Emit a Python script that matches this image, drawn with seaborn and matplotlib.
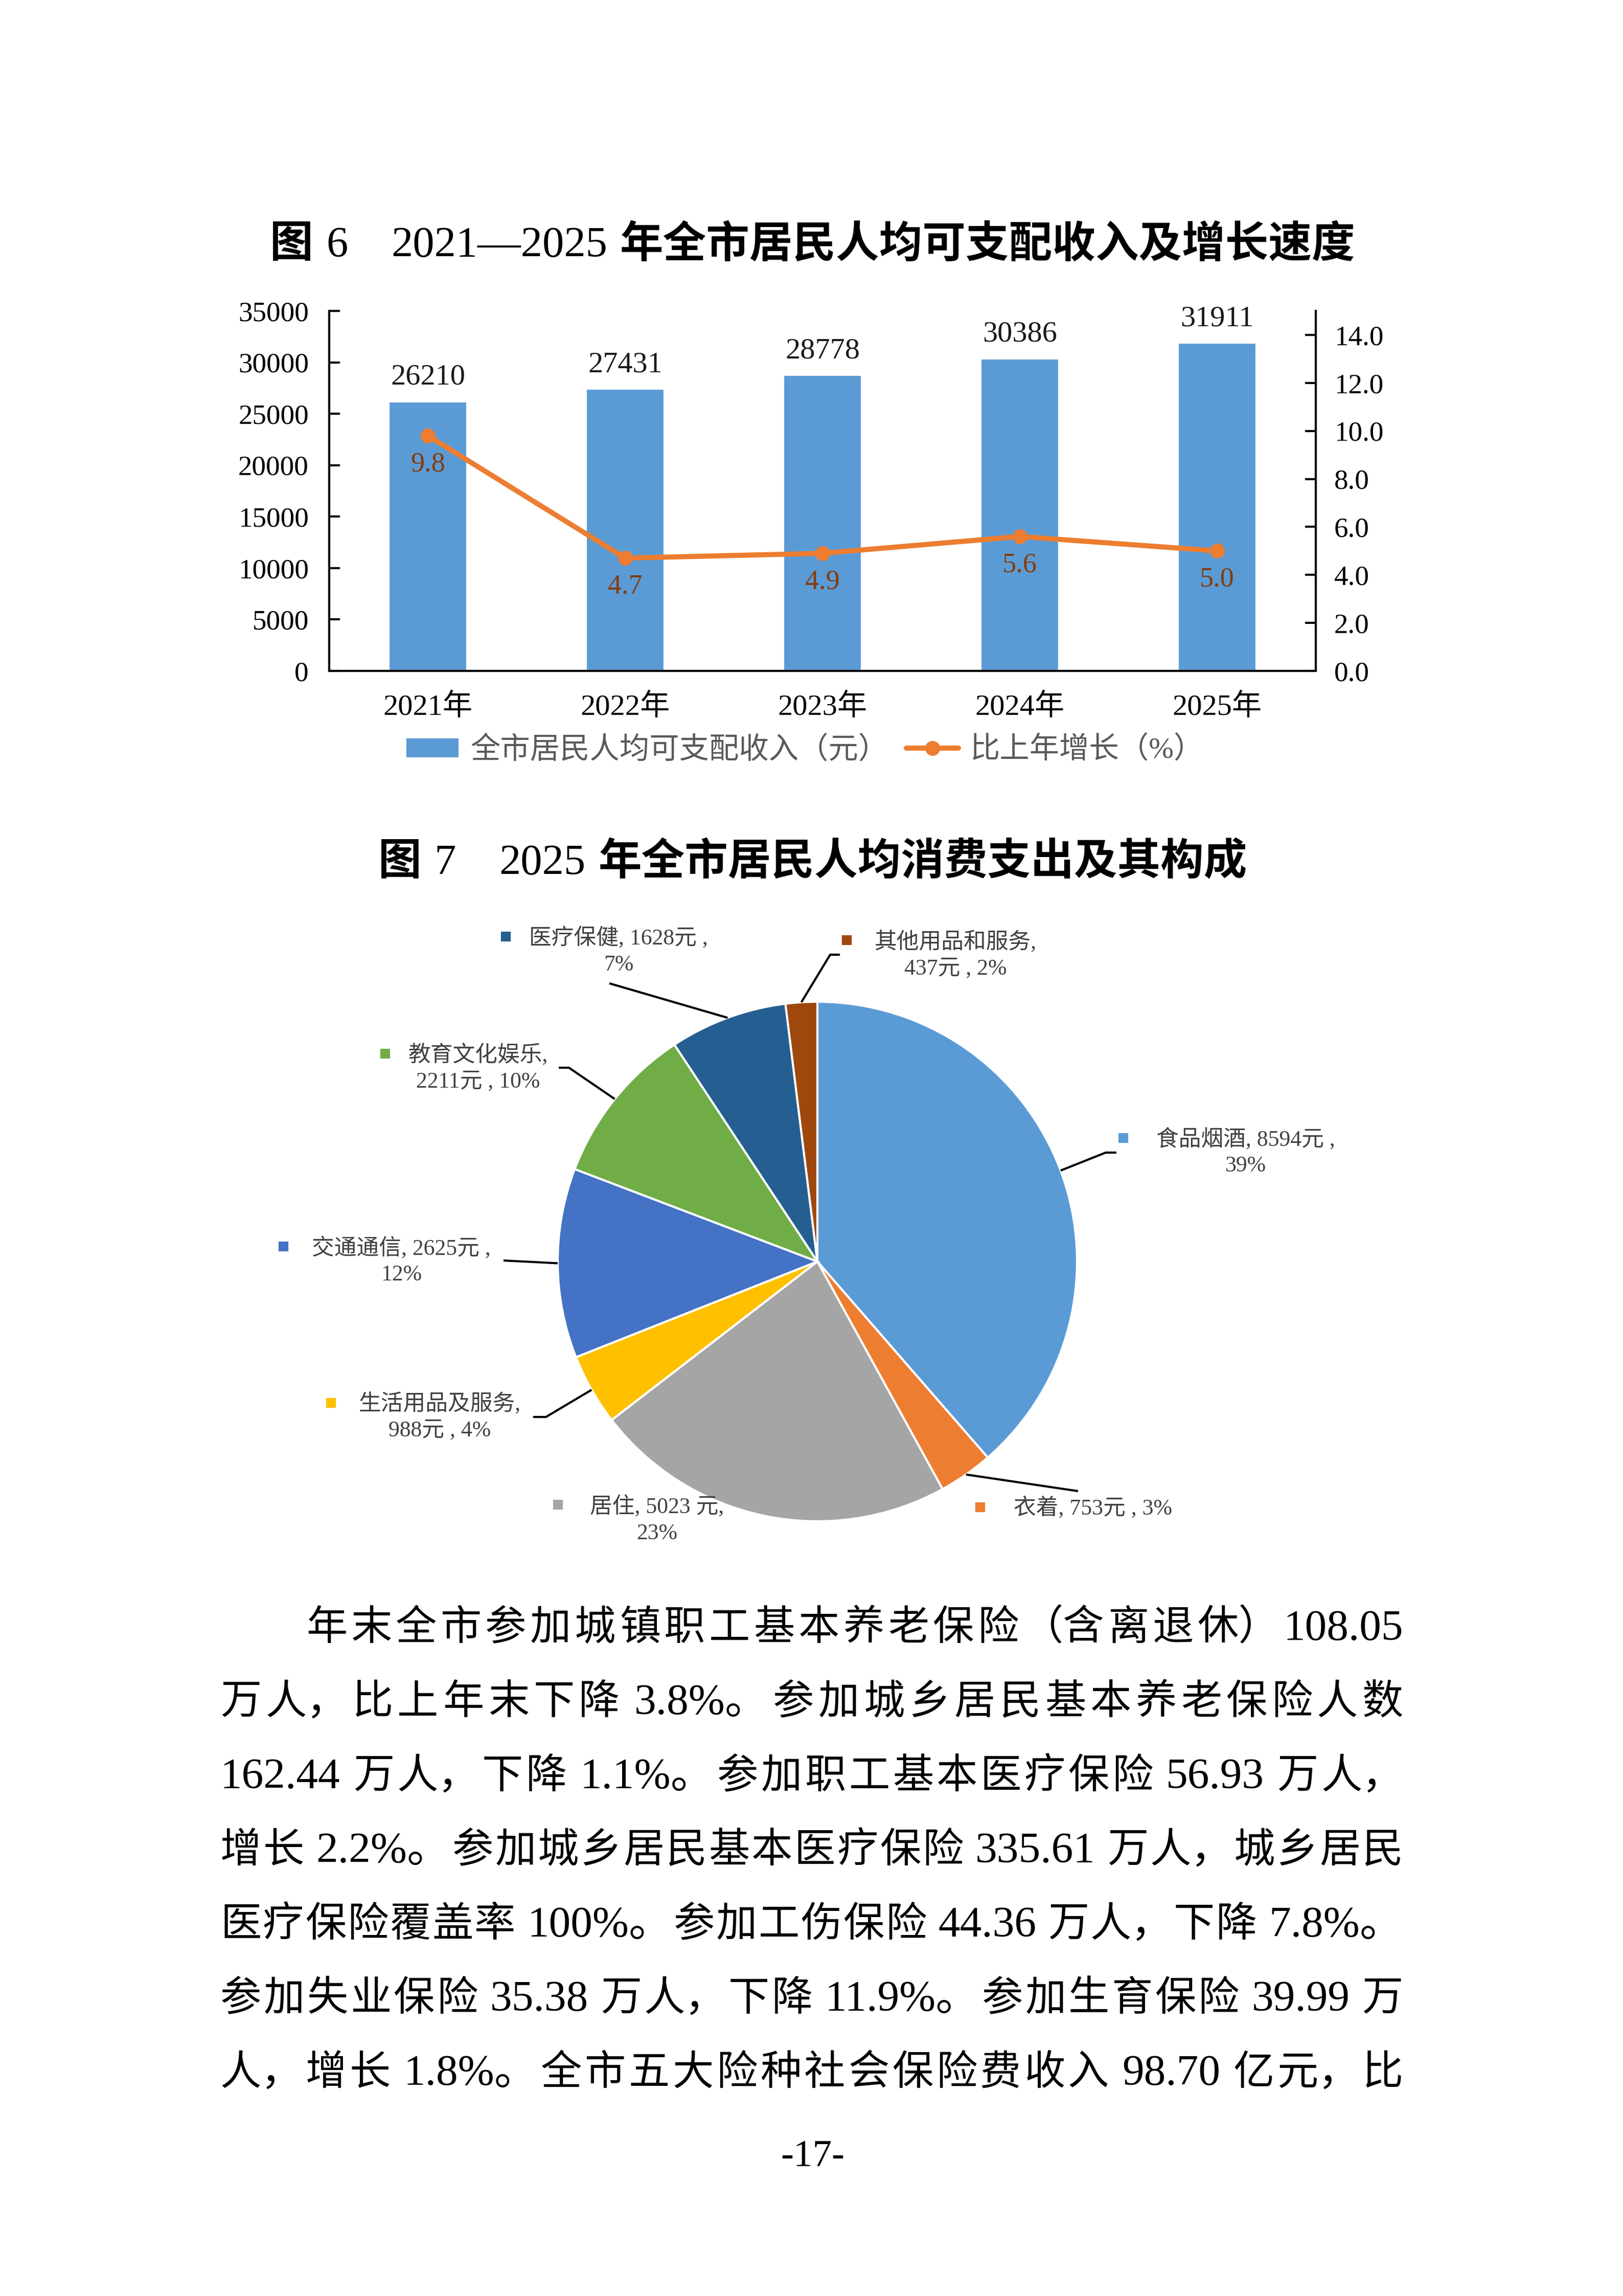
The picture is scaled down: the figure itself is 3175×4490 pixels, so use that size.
import matplotlib
matplotlib.use('Agg')
import matplotlib.pyplot as plt
from matplotlib.patches import Patch
from matplotlib.lines import Line2D
import numpy as np
import seaborn as sns

W, H, DPI = 3175, 4490, 300

# ---- data: figure 6 ----
years = ['2021年', '2022年', '2023年', '2024年', '2025年']
income = [26210, 27431, 28778, 30386, 31911]
growth = [9.8, 4.7, 4.9, 5.6, 5.0]
legend_labels = ['全市居民人均可支配收入（元）', '比上年增长（%）']

# ---- data: figure 7 ----
spend_items = ['食品烟酒', '衣着', '居住', '生活用品及服务',
               '交通通信', '教育文化娱乐', '医疗保健', '其他用品和服务']
spend_values = [8594, 753, 5023, 988, 2625, 2211, 1628, 437]
spend_colors = ['#5B9BD5', '#ED7D31', '#A5A5A5', '#FFC000',
                '#4472C4', '#70AD47', '#255E91', '#9E480E']
label_fmt = ['{n}, {v}元 ,\n{p}%', '{n}, {v}元 , {p}%', '{n}, {v} 元,\n{p}%',
             '{n},\n{v}元 , {p}%', '{n}, {v}元 ,\n{p}%', '{n},\n{v}元 , {p}%',
             '{n}, {v}元 ,\n{p}%', '{n},\n{v}元 , {p}%']

body_lines = [
    '年末全市参加城镇职工基本养老保险（含离退休）108.05',
    '万人，比上年末下降 3.8%。参加城乡居民基本养老保险人数',
    '162.44 万人，下降 1.1%。参加职工基本医疗保险 56.93 万人，',
    '增长 2.2%。参加城乡居民基本医疗保险 335.61 万人，城乡居民',
    '医疗保险覆盖率 100%。参加工伤保险 44.36 万人，下降 7.8%。',
    '参加失业保险 35.38 万人，下降 11.9%。参加生育保险 39.99 万',
    '人，增长 1.8%。全市五大险种社会保险费收入 98.70 亿元，比',
]

sns.set_theme(style='white')
FAM = ['Liberation Serif', 'Noto Sans CJK SC', 'DejaVu Sans']
plt.rcParams['font.family'] = FAM
plt.rcParams['axes.unicode_minus'] = False


def fx(x):
    return x / W


def fy(y):
    return 1 - y / H


fig = plt.figure(figsize=(W / DPI, H / DPI), dpi=DPI)
fig.patch.set_facecolor('white')
RENDERER = fig.canvas.get_renderer()


def measure(s, **kw):
    t = fig.text(0, 0, s, **kw)
    w = t.get_window_extent(renderer=RENDERER).width
    t.remove()
    return w


# ---- titles (CJK bold, numbers regular serif) ----
def draw_title(parts, cx, cy, fs=20.3):
    em = fs * DPI / 72
    cjk = dict(fontsize=fs, family=['Noto Sans CJK SC'], fontweight='bold')
    ser = dict(fontsize=fs, family=['Liberation Serif'])
    items = []
    for kind, s in parts:
        if kind == 'gap':
            items.append((None, s * em, None))
        else:
            kw = cjk if kind == 'c' else ser
            items.append((s, measure(s, **kw), kw))
    total = sum(w for _, w, _ in items)
    x = cx - total / 2
    base = cy + 0.38 * em
    for s, w, kw in items:
        if s is not None:
            fig.text(fx(x), fy(base), s, ha='left', va='baseline', color='black', **kw)
        x += w


draw_title([('c', '图'), ('gap', 0.3), ('s', '6'), ('gap', 1.0), ('s', '2021—2025'),
            ('gap', 0.3), ('c', '年全市居民人均可支配收入及增长速度')], 1590, 470)
draw_title([('c', '图'), ('gap', 0.3), ('s', '7'), ('gap', 1.0), ('s', '2025'),
            ('gap', 0.3), ('c', '年全市居民人均消费支出及其构成')], 1590, 1678)

# ---- figure 6: bars + growth line ----
ax = fig.add_axes([fx(644), fy(1312), (2574 - 644) / W, (1312 - 608) / H])
sns.barplot(x=years, y=income, color='#5B9BD5', saturation=1, width=0.4,
            errorbar=None, ax=ax)
ax.set_xlim(-0.5, len(years) - 0.5)
ax.set_ylim(0, 35000)
ax.set_yticks(np.arange(0, 35001, 5000))
ax.set_xlabel('')
ax.set_ylabel('')
ax.bar_label(ax.containers[0], labels=[str(v) for v in income], padding=5,
             fontsize=14, color='#1a1a1a')
ax.set_xticks(range(len(years)))
ax.set_xticklabels(years, fontsize=14, color='black')
ax.set_xticks(np.arange(0.5, len(years) - 1, 1), minor=True)
ax.tick_params(axis='x', which='major', length=0, pad=10.5)
ax.tick_params(axis='x', which='minor', direction='in', length=5, width=1, color='black')
ax.tick_params(axis='y', direction='in', length=5, width=1, color='black',
               labelsize=13.2, labelcolor='black', pad=9.6, left=True)
for side in ['top', 'right']:
    ax.spines[side].set_visible(False)
for side in ['left', 'bottom']:
    ax.spines[side].set_color('black')
    ax.spines[side].set_linewidth(1.0)

ax2 = ax.twinx()
xs = np.arange(len(years))
ax2.plot(xs, growth, color='#ED7D31', lw=2.4, marker='o', ms=6, zorder=3)
ax2.set_ylim(0, 15)
ax2.set_yticks(np.arange(0, 14.1, 2))
ax2.set_yticklabels([f'{v:.1f}' for v in np.arange(0, 14.1, 2)])
ax2.tick_params(axis='y', direction='in', length=5, width=1, color='black',
                labelsize=13.2, labelcolor='black', pad=8.6, right=True)
for side in ['top', 'left', 'bottom']:
    ax2.spines[side].set_visible(False)
ax2.spines['right'].set_color('black')
ax2.spines['right'].set_linewidth(1.0)
for i, g in enumerate(growth):
    ax2.annotate(f'{g:.1f}', (i, g), xytext=(0, -13.4), textcoords='offset points',
                 ha='center', va='center', fontsize=13, color='#843C0C')

handles = [Patch(facecolor='#5B9BD5', edgecolor='none'),
           Line2D([0], [0], color='#ED7D31', lw=2.4, marker='o', ms=6)]
fig.legend(handles, legend_labels, loc='center', bbox_to_anchor=(fx(1575), fy(1467)),
           ncol=2, frameon=False, fontsize=14, handlelength=1.75, handleheight=0.6,
           handletextpad=0.4, columnspacing=0.6, labelcolor='#595959')

# ---- figure 7: pie ----
CX, CY, R = 1599, 2467, 508
PL, PR, PT, PB = 450, 2750, 1760, 3080
axp = fig.add_axes([fx(PL), fy(PB), (PR - PL) / W, (PB - PT) / H])
wedges, _ = axp.pie(spend_values, colors=spend_colors, startangle=90,
                    counterclock=False, radius=1,
                    wedgeprops=dict(edgecolor='white', linewidth=1.0))
axp.set_aspect('auto')
axp.set_xlim((PL - CX) / R, (PR - CX) / R)
axp.set_ylim((CY - PB) / R, (CY - PT) / R)
axp.axis('off')


def d(x, y):
    return (x - CX) / R, (CY - y) / R


# label layout in page pixels: block centre, marker square, leader bends
label_pos = [(2437, 2253), (2138, 2949), (1285, 2972), (860, 2771),
             (785, 2466), (935, 2088), (1210, 1860), (1869, 1867)]
square_pos = [(2197, 2225), (1917, 2947), (1091, 2942), (647, 2743),
              (554, 2437), (753, 2060), (989, 1831), (1656, 1838)]
leader_pts = [[(2163, 2254), (2184, 2254)], [(2109, 2916)], [],
              [(1068, 2771), (1043, 2771)], [(985, 2465)],
              [(1113, 2088), (1093, 2088)], [(1192, 1923)],
              [(1624, 1867), (1643, 1867)]]

total = sum(spend_values)
for k, wdg in enumerate(wedges):
    name, val = spend_items[k], spend_values[k]
    pct = round(val / total * 100)
    txt = label_fmt[k].format(n=name, v=val, p=pct)
    tx, ty = d(*label_pos[k])
    axp.text(tx, ty, txt, ha='center', va='center', fontsize=10.5,
             color='#404040', linespacing=1.35, multialignment='center')
    sx, sy = d(*square_pos[k])
    axp.plot([sx], [sy], marker='s', ms=3.6, color=spend_colors[k], linestyle='none')
    if leader_pts[k]:
        mid = np.deg2rad((wdg.theta1 + wdg.theta2) / 2)
        px = [np.cos(mid)] + [d(*p)[0] for p in leader_pts[k]]
        py = [np.sin(mid)] + [d(*p)[1] for p in leader_pts[k]]
        axp.plot(px, py, color='black', lw=1.0, solid_capstyle='butt')


# ---- body text, justified line by line ----
def tokenize(line):
    toks = []
    buf, space = '', False
    for ch in line:
        if ch == ' ':
            if buf:
                toks.append([buf, space])
                buf, space = '', False
            space = True
        elif ord(ch) < 128:
            buf += ch
        else:
            if buf:
                toks.append([buf, space])
                buf, space = '', False
            if ch in '，。）' and toks:
                toks[-1][0] += ch
            elif toks and toks[-1][0].endswith('（'):
                toks[-1][0] += ch
            else:
                toks.append([ch, space])
                space = False
    if buf:
        toks.append([buf, space])
    return toks


CJK_FS, NUM_FS = 19.3, 20.5
EM = CJK_FS * DPI / 72
for i, line in enumerate(body_lines):
    left = 599 if i == 0 else 431
    right = 2745
    base = 3176 + 145 * i + 0.38 * EM
    toks = tokenize(line)
    info = []
    for s, sp in toks:
        fs = NUM_FS if ord(s[0]) < 128 else CJK_FS
        w = measure(s, fontsize=fs, family=FAM)
        info.append((w, fs, sp))
    used = sum(w for w, _, _ in info) + sum(0.25 * EM for *_, sp in info if sp)
    gap = max((right - left - used) / (len(toks) - 1), 0)
    x = left
    for (s, _), (w, fs, sp) in zip(toks, info):
        if sp:
            x += 0.25 * EM
        fig.text(fx(x), fy(base), s, ha='left', va='baseline',
                 fontsize=fs, family=FAM, color='black')
        x += w + gap

fig.text(fx(1590), fy(4218), '-17-', ha='center', va='center', fontsize=18,
         family=['Liberation Serif'], color='black')

fig.savefig('out.png', dpi=DPI, facecolor='white')
plt.close(fig)
